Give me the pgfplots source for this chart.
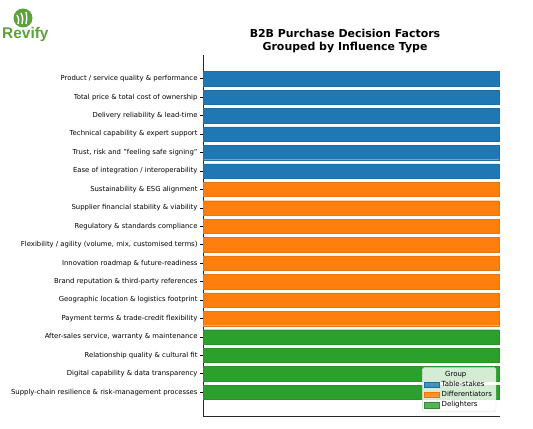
\documentclass[border=0pt]{standalone}
\usepackage{fontspec}
\setmainfont{DejaVu Sans}
\newfontfamily\logofont{Liberation Sans}
\usepackage{pgfplots}
\pgfplotsset{compat=1.18}
\definecolor{tabblue}{HTML}{1F77B4}
\definecolor{taborange}{HTML}{FF7F0E}
\definecolor{tabgreen}{HTML}{2CA02C}
\definecolor{logogreen}{HTML}{5DA23A}
\begin{document}
\begin{tikzpicture}[x=1bp,y=1bp]
\useasboundingbox (0,0) rectangle (533,428);
% logo
\fill[logogreen] (23,410) circle (9.5);
\draw[white,line width=1.4bp] (18,404) .. controls (19,409) .. (17,413);
\draw[white,line width=1.4bp] (22,404) .. controls (23,410) .. (21,415);
\draw[white,line width=1.4bp] (26,404) .. controls (27,410) .. (26,416);
\node[anchor=base west,inner sep=0,text=logogreen,font=\logofont\fontsize{15.5}{15}\selectfont\bfseries] at (2,389) {Revify};
% title
\node[align=center,inner sep=0,font=\fontsize{11}{13.5}\selectfont\bfseries] at (345,387) {B2B Purchase Decision Factors\\Grouped by Influence Type};
\begin{axis}[
  at={(203bp,12bp)}, anchor=south west,
  scale only axis, width=297bp, height=361bp,
  xmin=0, xmax=1.003,
  ymin=-1.29, ymax=18.29, y dir=reverse,
  axis x line=bottom, axis y line=left, axis line style={-, line width=0.8bp, black!85},
  xtick=\empty,
  ytick={0,...,17},
  yticklabels={
    Product / service quality \& performance,
    Total price \& total cost of ownership,
    Delivery reliability \& lead-time,
    Technical capability \& expert support,
    {Trust, risk and "feeling safe signing"},
    Ease of integration / interoperability,
    Sustainability \& ESG alignment,
    Supplier financial stability \& viability,
    Regulatory \& standards compliance,
    {Flexibility / agility (volume, mix, customised terms)},
    Innovation roadmap \& future-readiness,
    Brand reputation \& third-party references,
    Geographic location \& logistics footprint,
    Payment terms \& trade-credit flexibility,
    {After-sales service, warranty \& maintenance},
    Relationship quality \& cultural fit,
    Digital capability \& data transparency,
    Supply-chain resilience \& risk-management processes},
  tick align=outside, major tick length=3bp,
  ytick style={line width=0.6bp, black},
  yticklabel style={font=\fontsize{6.9}{8}\selectfont, xshift=1bp},
  xbar, bar width=0.78, bar shift=0pt,
  legend style={at={(0.987,0.011)}, anchor=south east, font=\fontsize{7}{8.5}\selectfont,
    draw=black!15, rounded corners=1.5bp, fill=white, fill opacity=0.8, text opacity=1,
    inner xsep=2bp, inner ysep=1.5bp, row sep=-0.6bp},
  legend cell align=left,
  legend image code/.code={\fill[#1, sharp corners] (0bp,-2.7bp) rectangle (15bp,2.7bp);},
]
\addlegendimage{empty legend}
\addlegendentry{\hspace{3.5bp}Group}
\addplot[fill=tabblue, draw=tabblue!92!black, line width=0.25bp] coordinates {(1,0) (1,1) (1,2) (1,3) (1,4) (1,5)};
\addlegendentry{Table-stakes}
\addplot[fill=taborange, draw=taborange!92!black, line width=0.25bp] coordinates {(1,6) (1,7) (1,8) (1,9) (1,10) (1,11) (1,12) (1,13)};
\addlegendentry{Differentiators}
\addplot[fill=tabgreen, draw=tabgreen!92!black, line width=0.25bp] coordinates {(1,14) (1,15) (1,16) (1,17)};
\addlegendentry{Delighters}
\end{axis}
\end{tikzpicture}
\end{document}
